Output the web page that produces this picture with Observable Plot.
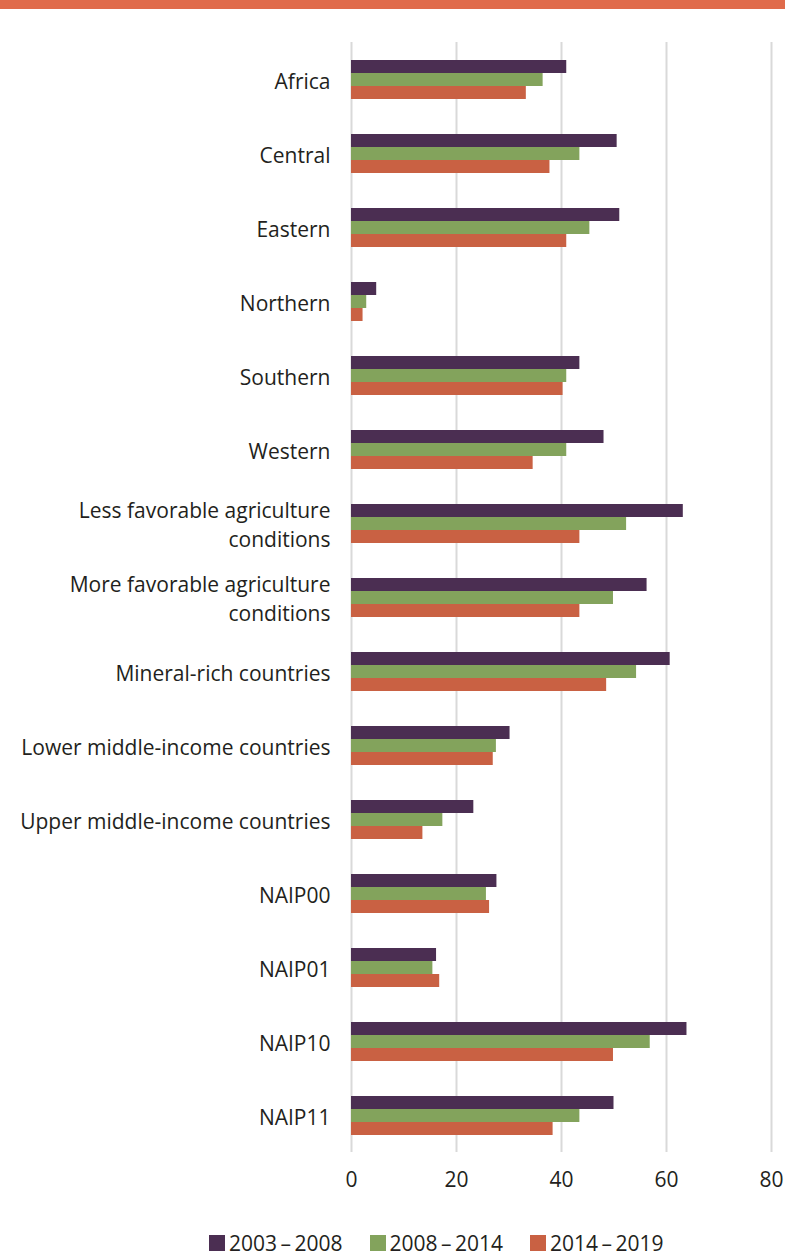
<!DOCTYPE html>
<html>
<head>
<meta charset="utf-8">
<script src="https://cdn.jsdelivr.net/npm/d3@7"></script>
<script src="https://cdn.jsdelivr.net/npm/@observablehq/plot@0.6"></script>
<style>
  html, body { margin: 0; padding: 0; background: #fff; }
  body { width: 785px; font-family: "Open Sans", sans-serif; color: #231f20; }
  .band { height: 9px; background: #E06B4B; }
  #chart svg { display: block; }
  .legend { display: flex; align-items: center; margin-top: 24px; padding-left: 209px; font-size: 21px; color: #231f20; }
  .legend .item { display: flex; align-items: center; margin-right: 27px; }
  .legend .sw { width: 16px; height: 16px; margin-right: 4px; }
</style>
</head>
<body>
<div class="band"></div>
<div id="chart"></div>
<div class="legend" id="legend"></div>
<script>
const categories = [
  "Africa", "Central", "Eastern", "Northern", "Southern", "Western",
  "Less favorable agriculture\nconditions",
  "More favorable agriculture\nconditions",
  "Mineral-rich countries",
  "Lower middle-income countries",
  "Upper middle-income countries",
  "NAIP00", "NAIP01", "NAIP10", "NAIP11"
];
const series = ["2003\u2009\u2013\u20092008", "2008\u2009\u2013\u20092014", "2014\u2009\u2013\u20092019"];
const colors = ["#4B2E52", "#83A35C", "#C96143"];
const v2003_2008 = [41.0, 50.6, 51.1, 4.8, 43.5, 48.1, 63.2, 56.3, 60.7, 30.2, 23.3, 27.7, 16.2, 63.9, 50.0];
const v2008_2014 = [36.5, 43.5, 45.4, 2.9, 41.0, 41.0, 52.4, 49.9, 54.3, 27.6, 17.4, 25.7, 15.5, 56.9, 43.5];
const v2014_2019 = [33.3, 37.8, 41.0, 2.2, 40.3, 34.6, 43.5, 43.5, 48.6, 27.0, 13.6, 26.3, 16.8, 49.9, 38.4];
const xTicks = [0, 20, 40, 60, 80];

const seriesValues = [v2003_2008, v2008_2014, v2014_2019];
const data = [];
categories.forEach((c, i) => {
  series.forEach((s, j) => data.push({category: c, series: s, value: seriesValues[j][i]}));
});

const chart = Plot.plot({
  width: 785,
  height: 1196,
  marginTop: 31,
  marginBottom: 52,
  marginLeft: 351,
  marginRight: 14,
  style: {fontFamily: "'Open Sans', sans-serif", fontSize: "21px", color: "#231f20", background: "#fff"},
  x: {domain: [0, 80]},
  fy: {domain: categories, padding: 0},
  y: {domain: series, paddingInner: 0, paddingOuter: 1.15, axis: null},
  color: {domain: series, range: colors},
  marks: [
    Plot.gridX(xTicks, {stroke: "#d9d9d9", strokeOpacity: 1, strokeWidth: 2}),
    Plot.barX(data, {fy: "category", y: "series", x: "value", fill: "series"}),
    Plot.axisX(xTicks, {anchor: "bottom", tickSize: 0, tickPadding: 20, label: null, fontSize: "21px"}),
    Plot.axisFy({anchor: "left", tickSize: 0, tickPadding: 21, label: null, fontSize: "21px", lineHeight: 1.35})
  ]
});
document.getElementById("chart").appendChild(chart);

const legend = document.getElementById("legend");
series.forEach((s, j) => {
  const item = document.createElement("div");
  item.className = "item";
  const sw = document.createElement("div");
  sw.className = "sw";
  sw.style.background = colors[j];
  const t = document.createElement("span");
  t.textContent = s;
  item.appendChild(sw);
  item.appendChild(t);
  legend.appendChild(item);
});
</script>
</body>
</html>
